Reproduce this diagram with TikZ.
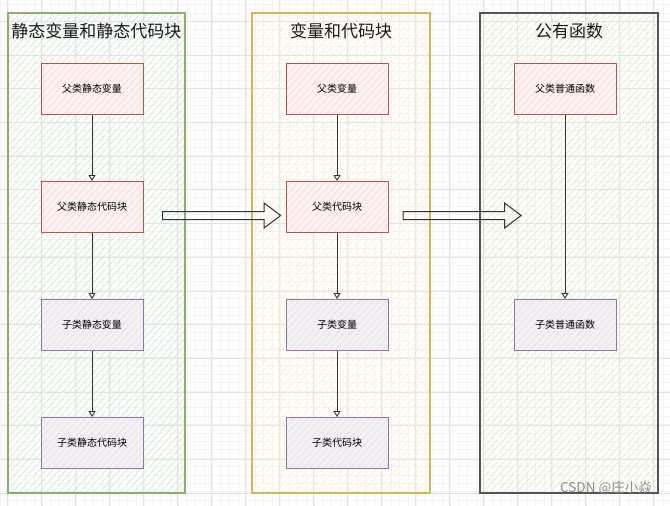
\documentclass[tikz,border=0pt]{standalone}
\usepackage{fontspec}
\usepackage{xcolor}
\usepackage{tikz}
\usetikzlibrary{positioning, arrows.meta, shapes.arrows, patterns.meta}
\newfontfamily\cjk{Noto Sans CJK SC}
\definecolor{gridgray}{RGB}{226, 226, 226}
\definecolor{gridfaint}{RGB}{244, 244, 244}
\definecolor{staticgreen}{HTML}{82B366}
\definecolor{staticfill}{HTML}{D5E8D4}
\definecolor{instyellow}{HTML}{D6B656}
\definecolor{instfill}{HTML}{FFF2CC}
\definecolor{funcgray}{HTML}{555555}
\definecolor{funcfill}{HTML}{DDEFBF}
\definecolor{parentred}{HTML}{B85450}
\definecolor{parentfill}{HTML}{F8CECC}
\definecolor{childpurple}{HTML}{9673A6}
\definecolor{childfill}{HTML}{E4DEE6}
\definecolor{linkgray}{HTML}{333333}

\begin{document}
\begin{tikzpicture}[
  x=1pt, y=-1pt,
  hatch/.style={pattern={Lines[angle=48, distance=5pt, line width=0.7pt]}, pattern color=#1},
  panel/.style={draw=#1, line width=1.3pt, minimum width=177pt, minimum height=480pt, inner sep=0},
  paneltitle/.style={font=\cjk\fontsize{17}{20}\selectfont, text=black!90},
  parentbox/.style={draw=parentred, line width=1pt, preaction={fill=parentfill!25}, preaction={hatch=parentfill!85},
    minimum width=102pt, minimum height=51pt, inner sep=0, font=\cjk\fontsize{10}{12}\selectfont, text=black},
  childbox/.style={draw=childpurple, line width=1pt, preaction={fill=childfill!45}, preaction={hatch=childfill},
    minimum width=102pt, minimum height=51pt, inner sep=0, font=\cjk\fontsize{10}{12}\selectfont, text=black},
  flow/.style={draw=linkgray, line width=0.9pt, -{Triangle[open, length=6pt, width=7pt]}},
  bigarrow/.style={single arrow, draw=linkgray, line width=1pt, minimum height=118pt, inner sep=3.5pt,
    single arrow head extend=8.5pt, single arrow tip angle=74},
]
\useasboundingbox (0,0) rectangle (670,506);

% Background grid
\foreach \gx in {0,8.5,...,670} \draw[gridfaint, line width=0.5pt] (\gx,0) -- (\gx,506);
\foreach \gy in {4.5,12.9,...,506} \draw[gridfaint, line width=0.5pt] (0,\gy) -- (670,\gy);
\foreach \gx in {7,41,...,670} \draw[gridgray, line width=0.7pt] (\gx,0) -- (\gx,506);
\foreach \gy in {21.3,55,...,506} \draw[gridgray, line width=0.7pt] (0,\gy) -- (670,\gy);

% ==================== Panels ====================
\node[panel=staticgreen, preaction={hatch=staticfill}] (staticpanel) at (96.5, 253) {};
\node[panel=instyellow, preaction={hatch=instfill}, minimum width=178pt] (instpanel) at (341, 253) {};
\node[panel=funcgray, preaction={hatch=funcfill}, minimum width=178pt] (funcpanel) at (569, 253) {};

\node[paneltitle] (statictitle) at (96.5, 31) {静态变量和静态代码块};
\node[paneltitle] (insttitle) at (341, 31) {变量和代码块};
\node[paneltitle] (functitle) at (569, 31) {公有函数};

% ==================== Static members ====================
\node[parentbox] (psvar) at (92, 89) {父类静态变量};
\node[parentbox] (psblock) at (92, 207) {父类静态代码块};
\node[childbox] (csvar) at (92, 325) {子类静态变量};
\node[childbox] (csblock) at (92, 443) {子类静态代码块};

% ==================== Instance members ====================
\node[parentbox] (pvar) at (337, 89) {父类变量};
\node[parentbox] (pblock) at (337, 207) {父类代码块};
\node[childbox] (cvar) at (337, 325) {子类变量};
\node[childbox] (cblock) at (337, 443) {子类代码块};

% ==================== Functions ====================
\node[parentbox] (pfunc) at (565, 89) {父类普通函数};
\node[childbox] (cfunc) at (565, 325) {子类普通函数};

% Links
\draw[flow] (psvar) -- (psblock);
\draw[flow] (psblock) -- (csvar);
\draw[flow] (csvar) -- (csblock);
\draw[flow] (pvar) -- (pblock);
\draw[flow] (pblock) -- (cvar);
\draw[flow] (cvar) -- (cblock);
\draw[flow] (pfunc) -- (cfunc);

% Stage arrows
\node[bigarrow] (stageone) at (219, 215.5) {};
\node[bigarrow] (stagetwo) at (459.5, 215.5) {};

% Watermark
\node[font=\cjk\fontsize{13.5}{16}\selectfont, text=black!45] (mark) at (606, 488) {CSDN @庄小焱};

\end{tikzpicture}
\end{document}
